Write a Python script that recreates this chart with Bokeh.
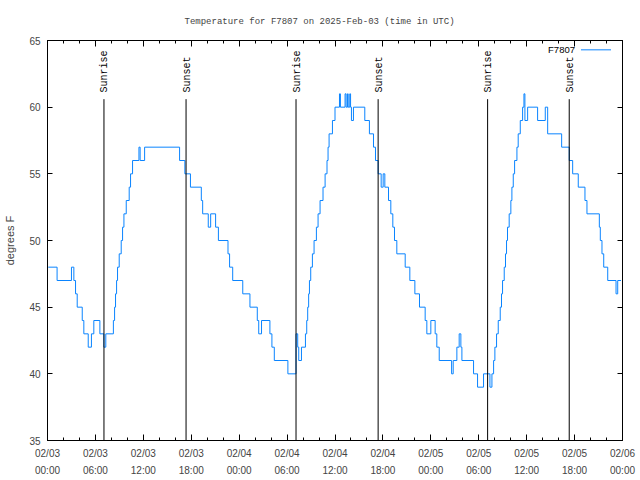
import math
from bokeh.plotting import figure
from bokeh.models import FixedTicker, LinearAxis, Range1d, Label, Arrow
from bokeh.core.properties import value
from bokeh.embed import file_html
from bokeh.resources import INLINE

# hours since 2025-02-03 00:00 UTC at which the reading changed, and the new reading (deg F)
hours = [0.1, 1.2, 3.0, 3.3, 3.51, 3.72, 4.35, 4.55, 5.1, 5.5, 5.8, 6.56, 7.06, 7.3,
         8.25, 8.4, 8.52, 8.65, 8.77, 8.98, 9.23, 9.4, 9.57, 9.86, 10.23, 10.4, 10.65,
         11.45, 11.6, 12.16, 16.54, 17.2, 17.9, 19.26, 19.43, 20.13, 20.43, 21.05, 21.4,
         22.6, 22.8, 23.19, 24.45, 25.35, 26.27, 26.45, 26.8, 27.85, 28.1, 28.4, 30.1,
         31.12, 31.33, 31.46, 31.8, 32.3, 32.46, 32.58, 32.7, 32.8, 32.96, 33.17, 33.38,
         33.67, 33.88, 34.13, 34.5, 34.76, 35.0, 35.13, 35.26, 35.68, 36.0, 36.56, 36.68,
         37.26, 37.39, 37.56, 37.65, 37.85, 37.95, 38.06, 38.31, 39.73, 40.31, 40.82,
         41.07, 41.4, 41.78, 42.03, 42.24, 42.7, 42.99, 43.24, 43.45, 43.74, 44.79, 45.37,
         46.0, 46.58, 47.29, 47.5, 48.0, 48.54, 48.75, 49.05, 50.6, 50.8, 51.26, 51.55,
         51.76, 51.89, 53.35, 53.85, 54.6, 55.4, 55.65, 55.86, 56.02, 56.23, 56.44, 56.69,
         56.85, 56.98, 57.19, 57.35, 57.48, 57.6, 57.81, 58.02, 58.15, 58.32, 58.49, 58.78,
         58.94, 59.2, 59.49, 59.66, 59.78, 60.12, 61.37, 62.33, 62.63, 64.38, 65.33, 65.76,
         66.46, 67.3, 67.55, 69.1, 69.22, 69.43, 69.65, 70.15, 71.19, 71.4, 71.81]
temps = [48, 47, 48, 47, 46, 45, 44, 43, 42, 43, 44, 43, 42, 43,
         44, 45, 46, 47, 48, 49, 50, 51, 52, 53, 54, 55, 56,
         57, 56, 57, 56, 55, 54, 53, 52, 51, 52, 51, 50,
         49, 48, 47, 46, 45, 44, 43, 44, 43, 42, 41, 40,
         43, 42, 41, 42, 43, 44, 45, 46, 47, 48, 49, 50,
         51, 52, 53, 54, 55, 56, 57, 58, 59, 60, 61, 60,
         61, 60, 61, 60, 61, 60, 59, 60, 59, 58, 57,
         56, 55, 54, 55, 54, 53, 52, 51, 50, 49, 48, 47,
         46, 45, 44, 43, 44, 43, 42, 41, 40, 41, 42, 43,
         42, 41, 40, 39, 40, 39, 40, 41, 42, 43, 44, 45,
         46, 47, 48, 49, 50, 51, 52, 53, 54, 55, 56, 57,
         58, 59, 60, 61, 59, 60, 59, 60, 58, 57, 56, 55,
         54, 53, 52, 51, 50, 49, 48, 47, 46, 47, 47]

sun_hours = [7.07, 17.35, 31.12, 41.40, 55.11, 65.33]
sun_labels = ["Sunrise", "Sunset", "Sunrise", "Sunset", "Sunrise", "Sunset"]

tick_hours = [0, 6, 12, 18, 24, 30, 36, 42, 48, 54, 60, 66, 72]
tick_labels = ["02/03\n00:00", "02/03\n06:00", "02/03\n12:00", "02/03\n18:00",
               "02/04\n00:00", "02/04\n06:00", "02/04\n12:00", "02/04\n18:00",
               "02/05\n00:00", "02/05\n06:00", "02/05\n12:00", "02/05\n18:00",
               "02/06\n00:00"]
minor_hours = list(range(0, 73, 2))
y_ticks = [35, 40, 45, 50, 55, 60, 65]

series_name = "F7807"
LINE = "#0a84ff"

p = figure(width=640, height=480, output_backend="svg", toolbar_location=None,
           x_range=Range1d(0, 72), y_range=Range1d(35, 65),
           min_border_left=47, min_border_right=18, min_border_top=40, min_border_bottom=40,
           title="Temperature for F7807 on 2025-Feb-03 (time in UTC)")
p.background_fill_color = "white"
p.border_fill_color = "white"
p.outline_line_color = "black"
p.xgrid.visible = False
p.ygrid.visible = False

p.title.align = "left"
p.title.offset = 137
p.title.text_font = "Liberation Mono"
p.title.text_font_size = "9px"
p.title.text_font_style = "normal"
p.title.standoff = 27

xt = FixedTicker(ticks=tick_hours, minor_ticks=minor_hours)
yt = FixedTicker(ticks=y_ticks, minor_ticks=[])

xa = p.xaxis[0]
xa.ticker = xt
xa.major_label_overrides = {h: l for h, l in zip(tick_hours, tick_labels)}
ya = p.yaxis[0]
ya.ticker = yt
ya.axis_label = "degrees F"
ya.axis_label_text_font = "Liberation Sans"
ya.axis_label_text_font_size = "11px"
ya.axis_label_text_font_style = "normal"
ya.axis_label_standoff = 10

for ax in (xa, ya):
    ax.major_label_text_font = "Liberation Sans"
    ax.axis_line_color = "black"
    ax.major_tick_line_color = "black"
    ax.minor_tick_line_color = "black"
    ax.major_tick_out = 0
    ax.minor_tick_out = 0
    ax.major_label_standoff = 7
xa.major_label_text_font_size = "10px"
xa.major_label_text_line_height = 1.6
ya.major_label_text_font_size = "10px"
xa.major_tick_in = 6
xa.minor_tick_in = 3
ya.major_tick_in = 5

top = LinearAxis(ticker=xt, major_label_text_font_size="1px", major_label_text_color=None,
                 major_tick_in=6, major_tick_out=0, minor_tick_in=3, minor_tick_out=0,
                 major_label_standoff=0)
p.add_layout(top, "above")
right = LinearAxis(ticker=yt, major_label_text_font_size="1px", major_label_text_color=None,
                   major_tick_in=5, major_tick_out=0, minor_tick_in=0, minor_tick_out=0,
                   major_label_standoff=0)
p.add_layout(right, "right")

p.step(hours, temps, mode="after", line_color=LINE, line_width=1)

p.segment(x0=sun_hours, y0=[35] * len(sun_hours), x1=sun_hours, y1=[60.6] * len(sun_hours),
          line_color="black", line_width=1)
p.text(x=sun_hours, y=[61.1] * len(sun_hours), text=sun_labels, angle=math.pi / 2,
       text_align="left", text_baseline="middle", text_color="black",
       x_offset=1,
       text_font=value("Liberation Mono"), text_font_size=value("10px"))

# key (label then line sample, as in the reference)
p.add_layout(Label(x=66.05, y=64.3, text=series_name, text_align="right",
                   text_baseline="middle", text_font="Liberation Sans",
                   text_font_size="9.5px", text_color="black"))
p.add_layout(Arrow(end=None, x_start=66.8, y_start=64.3, x_end=70.56, y_end=64.3,
                   line_color=LINE, line_width=1))

open("out.html", "w").write(file_html(p, INLINE))
